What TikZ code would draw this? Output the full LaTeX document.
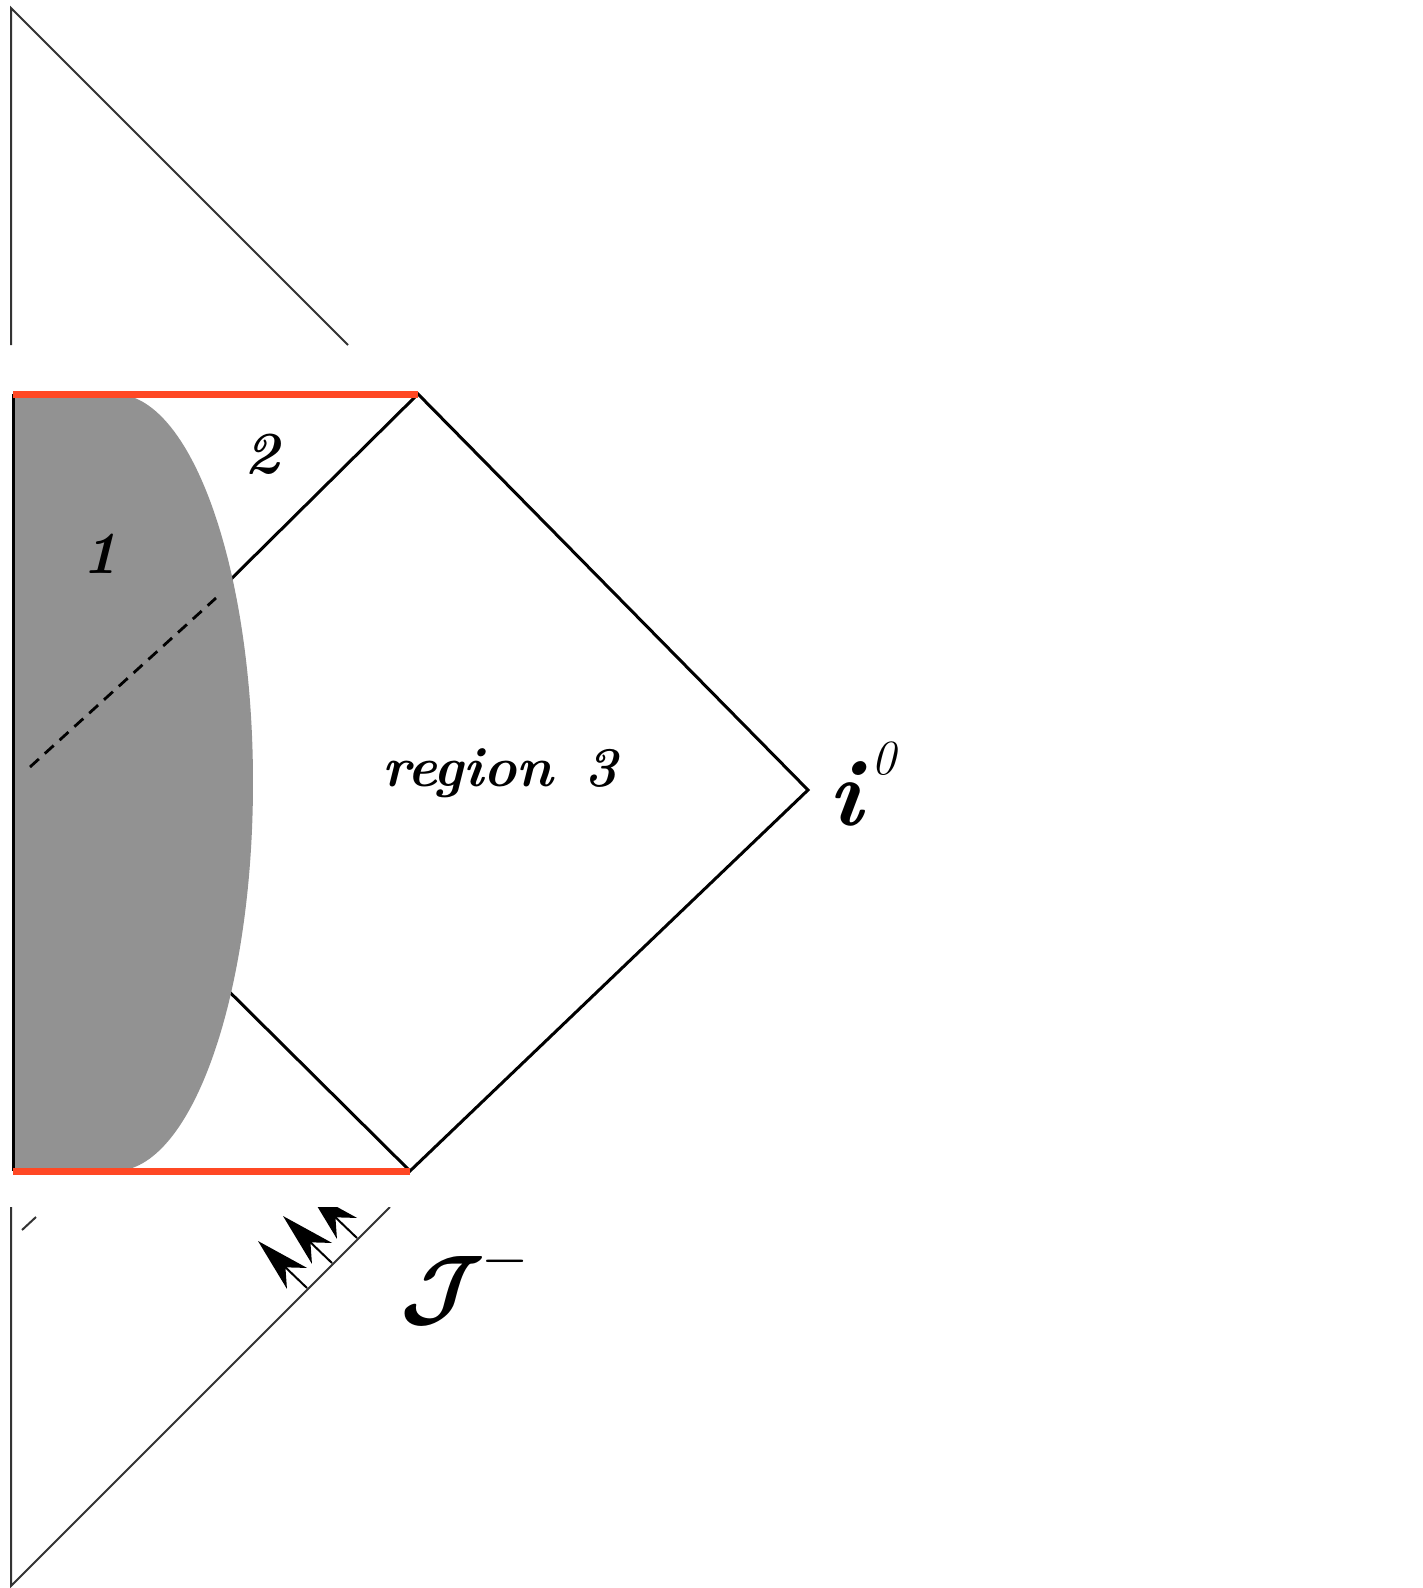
\documentclass[tikz,border=0pt]{standalone}
\usepackage{amsmath}
\usetikzlibrary{arrows.meta}
\definecolor{horizon}{RGB}{255,72,36}
\definecolor{starfill}{RGB}{146,146,146}
\begin{document}
\begin{tikzpicture}[
    x=0.1mm, y=-0.1mm,
    edge/.style={line width=0.3mm, line join=miter},
    thin edge/.style={line width=0.2mm, black!80},
    singular/.style={line width=0.7mm, horizon},
    numtext/.style={font=\fontsize{17}{20}\selectfont\bfseries\itshape},
    regtext/.style={font=\fontsize{16}{19}\selectfont\bfseries\itshape},
    bigtext/.style={font=\fontsize{27}{30}\selectfont, inner sep=0pt},
    flux/.style={line width=0.2mm, black,
                 -{Stealth[length=5.4mm, width=2.9mm, inset=1.6mm]}}]
  \useasboundingbox (0,0) rectangle (1423,1588);
  % upper copy
  \coordinate (tl) at (11,8);
  \draw[thin edge] (11,345) -- (tl) -- (348,345);
  % the diamond
  \coordinate (top) at (418,394);
  \coordinate (rgt) at (808,790);
  \coordinate (bot) at (410,1171);
  \coordinate (lft) at (22,786);
  \draw[edge] (lft) -- (top) -- (rgt) -- (bot) -- cycle;
  % star
  \fill[starfill] (13,394) -- (115,394)
    arc[start angle=90, end angle=-90, x radius=13.8mm, y radius=38.85mm]
    -- (13,1171) -- cycle;
  \coordinate (ctop) at (13,394);
  \coordinate (cbot) at (13,1171);
  \draw[edge] (ctop) -- (cbot);
  \draw[singular] (ctop) -- (top);
  \draw[singular] (cbot) -- (bot);
  \coordinate (da) at (30,767);
  \coordinate (db) at (216,598);
  \draw[line width=0.28mm, dash pattern=on 1.2mm off 0.8mm] (da) -- (db);
  % lower copy
  \begin{scope}
    \clip (0,1207) rectangle (1423,1588);
    \coordinate (bl) at (11,1586);
    \draw[thin edge] (11,1207) -- (bl) -- (390,1207);
    \draw[thin edge] (22,1230) -- (36,1217);
    \foreach \d in {0,25,50}
      \draw[flux] (307+\d,1288-\d) -- ++(-49,-47);
  \end{scope}
  \node[numtext] (one) at (100,554) {1};
  \node[numtext] (two) at (262,454) {2};
  \node[regtext, anchor=base] (reg) at (500,786) {region\hspace{0.55em}3};
  \node[bigtext, anchor=base west] (izero) at (828,825)
    {\bfseries\itshape i\kern0.1em\raisebox{0.53em}{\fontsize{14}{16}\selectfont\mdseries\itshape 0}};
  \node[bigtext, anchor=base west] (scri) at (400,1316)
    {$\boldsymbol{\mathcal{J}}^{\kern-0.04em\raisebox{0.03em}{$\scriptstyle-$}}$};
\end{tikzpicture}
\end{document}
